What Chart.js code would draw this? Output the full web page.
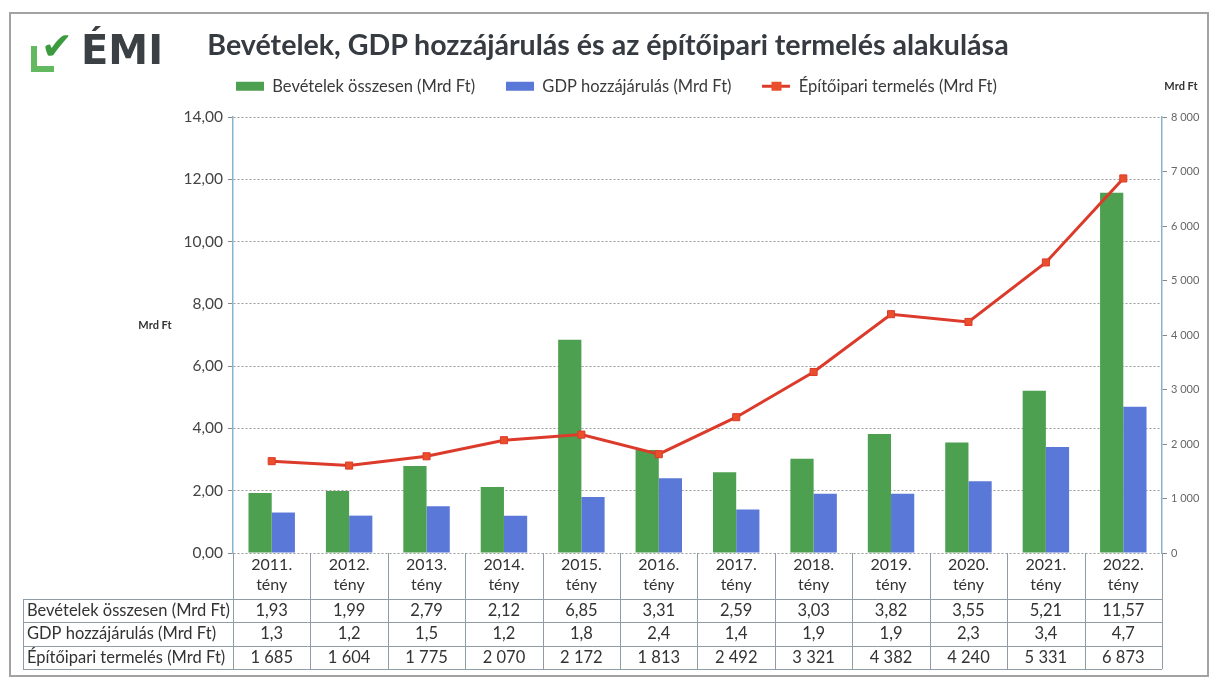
<!DOCTYPE html>
<html>
<head>
<meta charset="utf-8">
<script src="https://cdn.jsdelivr.net/npm/chart.js@4.4.0/dist/chart.umd.min.js"></script>
<style>
  body { margin: 0; background: #fff; }
  #wrap { position: relative; width: 1211px; height: 679px; overflow: hidden; background: #fff; }
  #chart { position: absolute; left: 0; top: 0; }
  #frame { position: absolute; left: 9px; top: 12px; width: 1200px; height: 665px;
           border: 2px solid #a2a2a2; box-sizing: border-box; pointer-events: none; }
  #title { position: absolute; left: 0; top: 27px; width: 1216px; text-align: center;
           font: bold 28.6px/34px Lato, sans-serif; color: #353b40; }
  .lbrk { position: absolute; left: 31px; top: 46px; width: 17px; height: 20px;
          border-left: 6px solid #62b95f; border-bottom: 6px solid #62b95f; }
  .chk { position: absolute; left: 41px; top: 26px; font: bold 38px/40px "DejaVu Sans", sans-serif; color: #3c9a3f; }
  .emi { position: absolute; left: 81px; top: 27px; font: bold 40px/46px "DejaVu Sans", sans-serif; color: #3b4045; }
</style>
</head>
<body>
<div id="wrap">
  <canvas id="chart" width="1211" height="679"></canvas>
  <div class="lbrk"></div>
  <div class="chk">✔</div>
  <div class="emi">ÉMI</div>
  <div id="title">Bevételek, GDP hozzájárulás és az építőipari termelés alakulása</div>
  <div id="frame"></div>
</div>
<script>
// adatok
var evek = ['2011.', '2012.', '2013.', '2014.', '2015.', '2016.', '2017.', '2018.', '2019.', '2020.', '2021.', '2022.'];
var tipus = 'tény';
var bevetelek = [1.93, 1.99, 2.79, 2.12, 6.85, 3.31, 2.59, 3.03, 3.82, 3.55, 5.21, 11.57];
var gdp = [1.3, 1.2, 1.5, 1.2, 1.8, 2.4, 1.4, 1.9, 1.9, 2.3, 3.4, 4.7];
var epitoipari = [1685, 1604, 1775, 2070, 2172, 1813, 2492, 3321, 4382, 4240, 5331, 6873];
var balTengely = [0, 14, 2];       // min, max, lépés
var jobbTengely = [0, 8000, 1000];

var cimkek = ['Bevételek összesen (Mrd Ft)', 'GDP hozzájárulás (Mrd Ft)', 'Építőipari termelés (Mrd Ft)'];
var zold = '#4ca050', kek = '#5a78d7', piros = '#dc3a2a', pirosPont = '#ea4f2c';

function tized(v, d) { return v.toFixed(d).replace('.', ','); }
function ezres(v) { return String(v).replace(/\B(?=(\d{3})+(?!\d))/g, ' '); }

function jelkep(tipus, szin) {
  var c = document.createElement('canvas');
  c.width = 28; c.height = 11;
  var g = c.getContext('2d');
  if (tipus == 'doboz') {
    g.fillStyle = szin;
    g.fillRect(0, 1, 28, 9);
  } else {
    g.strokeStyle = szin; g.lineWidth = 3;
    g.beginPath(); g.moveTo(0, 5.5); g.lineTo(28, 5.5); g.stroke();
    g.fillStyle = pirosPont; g.fillRect(9, 1, 10, 9);
  }
  return c;
}
var jelek = [jelkep('doboz', zold), jelkep('doboz', kek), jelkep('vonal', piros)];

var sorok = [
  { nev: cimkek[0], ertek: bevetelek, fmt: function (v) { return tized(v, 2); } },
  { nev: cimkek[1], ertek: gdp, fmt: function (v) { return tized(v, 1); } },
  { nev: cimkek[2], ertek: epitoipari, fmt: ezres }
];

// legend magassag fix
var legendFix = {
  id: 'legendFix',
  beforeInit: function (chart) {
    var eredeti = chart.legend.fit;
    chart.legend.fit = function () {
      eredeti.call(this);
      this.height = 70;
    };
  }
};

// adattabla a grafikon alatt
var tabla = {
  id: 'tabla',
  afterDraw: function (chart) {
    var ctx = chart.ctx, a = chart.chartArea, x = chart.scales.x;
    var fel = (x.getPixelForValue(1) - x.getPixelForValue(0)) / 2;
    var teto = a.bottom, fej = teto + 46, sorM = 23.4, alj = fej + sorM * 3, bal = 23;
    ctx.save();
    ctx.strokeStyle = '#8f9ba5';
    ctx.lineWidth = 1;
    ctx.beginPath();
    for (var i = 0; i < evek.length; i++) {
      var bx = Math.round(x.getPixelForValue(i) - fel) + 0.5;
      ctx.moveTo(bx, teto); ctx.lineTo(bx, alj);
    }
    ctx.moveTo(Math.round(a.right) + 0.5, teto); ctx.lineTo(Math.round(a.right) + 0.5, alj);
    ctx.moveTo(bal + 0.5, fej); ctx.lineTo(bal + 0.5, alj);
    for (var r = 0; r <= 3; r++) {
      var yy = Math.round(fej + r * sorM) + 0.5;
      ctx.moveTo(bal, yy); ctx.lineTo(a.right, yy);
    }
    ctx.stroke();

    ctx.font = '16.5px Lato';
    ctx.fillStyle = '#333';
    ctx.textBaseline = 'middle';
    sorok.forEach(function (s, r) {
      var cy = fej + r * sorM + sorM / 2;
      ctx.textAlign = 'left';
      ctx.fillText(s.nev, bal + 4, cy);
      ctx.textAlign = 'center';
      s.ertek.forEach(function (v, i) { ctx.fillText(s.fmt(v), x.getPixelForValue(i), cy); });
    });

    ctx.font = 'bold 11px Lato';
    ctx.fillStyle = '#333';
    ctx.textAlign = 'center';
    ctx.fillText('Mrd Ft', 155, 325);
    ctx.fillText('Mrd Ft', 1181, 86);
    ctx.restore();
  }
};

new Chart(document.getElementById('chart'), {
  type: 'bar',
  data: {
    labels: evek.map(function (e) { return [e, tipus]; }),
    datasets: [
      { label: cimkek[0], data: bevetelek, backgroundColor: zold, yAxisID: 'y', order: 2 },
      { label: cimkek[1], data: gdp, backgroundColor: kek, yAxisID: 'y', order: 2 },
      { type: 'line', label: cimkek[2], data: epitoipari, yAxisID: 'y1', order: 1,
        borderColor: piros, borderWidth: 3, tension: 0,
        pointStyle: 'rect', pointRadius: 5, pointBackgroundColor: pirosPont, pointBorderColor: piros, pointBorderWidth: 1 }
    ]
  },
  options: {
    responsive: false,
    animation: false,
    layout: { padding: { top: 47, left: 22, right: 0, bottom: 80 } },
    datasets: { bar: { barPercentage: 1, categoryPercentage: 0.6 } },
    plugins: {
      title: { display: false },
      tooltip: { enabled: false },
      legend: {
        labels: {
          usePointStyle: true,
          pointStyleWidth: 28,
          padding: 31,
          color: '#3a3a3a',
          font: { family: 'Lato', size: 16.5 },
          generateLabels: function (chart) {
            return chart.data.datasets.map(function (ds, i) {
              return { text: ds.label, pointStyle: jelek[i], fillStyle: 'transparent', strokeStyle: 'transparent',
                       lineWidth: 0, hidden: false, datasetIndex: i, fontColor: '#3a3a3a' };
            });
          }
        }
      }
    },
    scales: {
      x: {
        grid: { display: false, drawTicks: false },
        border: { display: false },
        ticks: { color: '#333', padding: 2, font: { family: 'Lato', size: 16, lineHeight: 1.25 } },
        afterFit: function (s) { s.height = 46; }
      },
      y: {
        position: 'left',
        min: balTengely[0], max: balTengely[1],
        ticks: { stepSize: balTengely[2], color: '#444', padding: 5, font: { family: 'Lato', size: 15.5 },
                 callback: function (v) { return tized(v, 2); } },
        grid: { color: '#9a9a9a', lineWidth: 1, tickLength: 5, tickColor: '#888' },
        border: { color: '#87b3cf', width: 1.5, dash: [2, 2] },
        afterFit: function (s) { s.width = 211; }
      },
      y1: {
        position: 'right',
        min: jobbTengely[0], max: jobbTengely[1],
        ticks: { stepSize: jobbTengely[2], color: '#666', padding: 4, font: { family: 'Lato', size: 11 },
                 callback: function (v) { return ezres(v); } },
        grid: { drawOnChartArea: false, tickLength: 5, tickColor: '#888' },
        border: { color: '#87b3cf', width: 1.5 },
        afterFit: function (s) { s.width = 49; }
      }
    }
  },
  plugins: [legendFix, tabla]
});
</script>
</body>
</html>
